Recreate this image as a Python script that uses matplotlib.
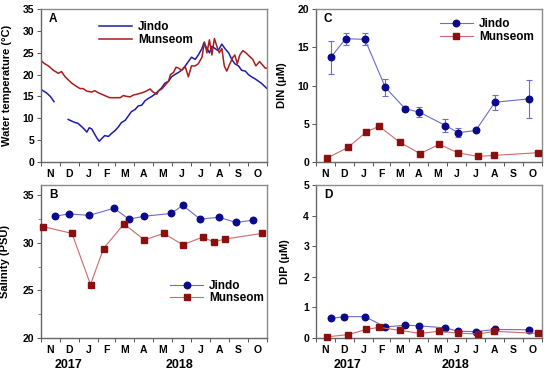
import numpy as np
import matplotlib
matplotlib.use("Agg")
import matplotlib.pyplot as plt
from matplotlib.ticker import FixedLocator, NullFormatter, MultipleLocator

plt.rcParams['font.family'] = ['Liberation Sans', 'DejaVu Sans']
plt.rcParams['font.weight'] = 'bold'

# ---------------- data (x = days since 1 Nov 2017) ----------------
months = ['N', 'D', 'J', 'F', 'M', 'A', 'M', 'J', 'J', 'A', 'S', 'O']
month_starts = [0, 30, 61, 92, 120, 151, 181, 212, 242, 273, 304, 334, 365]

# Panel A: water temperature
jindo_temp_day = [0, 9, 15, 21, 22, 44, 50, 55, 60, 66, 71, 74, 78, 82, 86, 90, 94, 98, 103,
                  109, 114, 120, 125, 130, 136, 141, 146, 152, 157, 163, 168, 173, 179, 184,
                  190, 195, 200, 206, 211, 216, 222, 227, 233, 238, 243, 249, 254, 260, 263,
                  268, 272, 276, 281, 286, 292, 297, 303, 308, 313, 319, 324, 330, 335, 340,
                  346, 351, 356, 362, 364]
jindo_temp = [16.6, 15.8, 15.0, 13.8, np.nan, 9.7, 9.3, 9.0, 8.8, 8.0, 7.3, 6.8, 7.8, 7.5, 6.5,
              5.5, 4.7, 5.3, 6.0, 5.8, 6.5, 7.2, 8.0, 9.0, 9.5, 10.5, 11.5, 12.0, 12.8, 13.0,
              14.0, 14.5, 15.0, 15.5, 16.3, 17.0, 18.0, 18.5, 19.5, 20.0, 20.5, 21.0, 22.0,
              23.0, 24.0, 23.5, 24.5, 26.0, 27.3, 26.0, 25.0, 26.5, 26.0, 25.5, 27.0, 26.0,
              25.0, 23.5, 22.5, 22.0, 21.0, 20.8, 20.0, 19.5, 19.0, 18.5, 18.0, 17.2, 16.9]
mun_temp_day = [0, 6, 12, 20, 28, 33, 39, 44, 50, 55, 63, 68, 74, 82, 87, 93, 98, 106, 111,
                120, 128, 133, 138, 144, 149, 155, 160, 165, 171, 176, 181, 187, 190, 195,
                200, 206, 209, 214, 218, 222, 227, 233, 238, 243, 249, 254, 260, 264, 268,
                272, 276, 280, 284, 288, 292, 296, 300, 305, 310, 313, 317, 321, 326, 331,
                336, 342, 347, 353, 356, 362, 364]
mun_temp = [23.2, 22.5, 22.0, 21.0, 20.3, 20.7, 19.5, 18.8, 18.0, 17.5, 16.8, 16.8, 16.2, 16.0,
            16.3, 15.8, 15.5, 15.0, 14.7, 14.7, 14.7, 15.2, 15.0, 14.9, 15.3, 15.5, 15.7, 15.9,
            16.3, 16.7, 16.0, 15.5, 16.3, 16.7, 17.5, 18.5, 20.0, 20.5, 21.7, 21.5, 21.0, 21.8,
            19.5, 22.0, 22.0, 22.5, 24.0, 27.5, 25.0, 28.0, 24.5, 28.3, 26.5, 25.0, 26.0, 22.0,
            20.8, 22.5, 24.0, 24.5, 22.5, 24.5, 25.5, 25.0, 24.3, 23.5, 22.0, 23.0, 22.5,
            21.5, 21.5]

# Panel B: salinity
jindo_sal_day = [22, 45, 78, 118, 142, 166, 210, 229, 257, 287, 315, 343]
jindo_sal = [32.8, 33.05, 32.9, 33.65, 32.5, 32.8, 33.1, 33.95, 32.5, 32.7, 32.15, 32.4]
mun_sal_day = [4, 50, 80, 101, 134, 167, 198, 229, 261, 279, 297, 357]
mun_sal = [31.7, 31.0, 25.6, 29.4, 32.0, 30.3, 31.0, 29.8, 30.6, 30.1, 30.4, 31.0]

# Panel C: DIN
jindo_din_day = [24, 48, 79, 112, 144, 167, 209, 230, 258, 289, 344]
jindo_din = [13.7, 16.15, 16.05, 9.75, 6.95, 6.5, 4.75, 3.8, 4.1, 7.8, 8.25]
jindo_din_err = [2.2, 0.8, 0.8, 1.15, 0.35, 0.65, 0.8, 0.6, 0.2, 1.0, 2.5]
mun_din_day = [18, 52, 81, 102, 135, 168, 199, 230, 262, 288, 358]
mun_din = [0.48, 1.88, 3.9, 4.64, 2.58, 1.05, 2.28, 1.14, 0.7, 0.83, 1.18]

# Panel D: DIP
jindo_dip_day = [24, 46, 79, 112, 144, 167, 209, 230, 258, 289, 344]
jindo_dip = [0.63, 0.69, 0.69, 0.35, 0.41, 0.39, 0.32, 0.21, 0.2, 0.27, 0.26]
jindo_dip_err = [0.03, 0.08, 0.04, 0.03, 0.03, 0.03, 0.03, 0.03, 0.02, 0.03, 0.03]
mun_dip_day = [18, 52, 81, 102, 135, 168, 199, 230, 262, 288, 358]
mun_dip = [0.03, 0.1, 0.27, 0.34, 0.24, 0.14, 0.21, 0.15, 0.12, 0.21, 0.14]

# ---------------- styling ----------------
J_MARK = '#0a0a8c'
J_LINE = '#6b6bd0'
M_MARK = '#8c0f0f'
M_LINE = '#cc6a6a'
J_TEMP = '#1c1ca8'
M_TEMP = '#a81c1c'
SPINE = '#8a8a8a'

fig = plt.figure(figsize=(5.5, 3.78), dpi=100)
W = 0.411
H = 0.404
axA = fig.add_axes([0.0745, 0.5722, W, 0.4032])
axB = fig.add_axes([0.0745, 0.1066, W, H])
axC = fig.add_axes([0.5745, 0.5722, W, 0.4032])
axD = fig.add_axes([0.5745, 0.1066, W, H])

month_centers = [(month_starts[i] + month_starts[i + 1]) / 2 for i in range(12)]


def style(ax, letter):
    ax.set_xlim(0, 365)
    ax.xaxis.set_major_locator(FixedLocator(month_starts))
    ax.xaxis.set_major_formatter(NullFormatter())
    ax.xaxis.set_minor_locator(FixedLocator(month_centers))
    ax.set_xticklabels(months, minor=True)
    ax.tick_params(axis='x', which='major', direction='out', length=3, width=0.7, color='#555555')
    ax.tick_params(axis='x', which='minor', length=0, pad=5, labelsize=7.5)
    ax.tick_params(axis='y', which='major', direction='out', length=3, width=0.7,
                   color='#555555', labelsize=7.5, pad=2)
    ax.tick_params(axis='y', which='minor', direction='out', length=2, width=0.6, color='#777777')
    for s in ax.spines.values():
        s.set_color(SPINE)
        s.set_linewidth(1.0)
    ax.spines['left'].set_color('#666666')
    ax.spines['bottom'].set_color('#666666')
    for lab in ax.get_xticklabels(minor=True) + ax.get_yticklabels():
        lab.set_fontweight('bold')
    ax.text(0.035, 0.935, letter, transform=ax.transAxes, fontsize=8.5,
            fontweight='bold', va='center', ha='left')


leg_kw = dict(frameon=False, prop={'size': 8.5, 'weight': 'bold'}, handlelength=2.8,
              handletextpad=0.5)

# Panel A
axA.plot(jindo_temp_day, jindo_temp, color=J_TEMP, lw=1.1, label='Jindo')
axA.plot(mun_temp_day, mun_temp, color=M_TEMP, lw=1.1, label='Munseom')
axA.set_ylim(0, 35)
axA.yaxis.set_major_locator(MultipleLocator(5))
style(axA, 'A')
axA.set_ylabel('Water temperature (°C)', fontsize=8, fontweight='bold')
axA.yaxis.set_label_coords(-0.128, 0.5)
axA.legend(loc='upper left', bbox_to_anchor=(0.22, 0.975), labelspacing=0.05,
           borderaxespad=0.3, **leg_kw)

mk = dict(markersize=4.7, lw=0.8, clip_on=False, zorder=3)

# Panel B
axB.plot(jindo_sal_day, jindo_sal, marker='o', color=J_LINE, mfc=J_MARK, mec=J_MARK,
         label='Jindo', **mk)
axB.plot(mun_sal_day, mun_sal, marker='s', color=M_LINE, mfc=M_MARK, mec=M_MARK,
         label='Munseom', **mk)
axB.set_ylim(20, 36.1)
axB.set_yticks([20, 25, 30, 35])
axB.yaxis.set_minor_locator(FixedLocator([22.5, 27.5, 32.5]))
style(axB, 'B')
axB.set_ylabel('Salinity (PSU)', fontsize=8, fontweight='bold')
axB.yaxis.set_label_coords(-0.137, 0.5)
axB.legend(loc='upper left', bbox_to_anchor=(0.55, 0.41), labelspacing=0.0,
           borderaxespad=0.0, **leg_kw)

# Panel C
axC.errorbar(jindo_din_day, jindo_din, yerr=jindo_din_err, fmt='none', ecolor=J_LINE,
             elinewidth=0.8, capsize=2.5, capthick=0.8, zorder=2)
axC.plot(jindo_din_day, jindo_din, marker='o', color=J_LINE, mfc=J_MARK, mec=J_MARK,
         label='Jindo', **mk)
axC.plot(mun_din_day, mun_din, marker='s', color=M_LINE, mfc=M_MARK, mec=M_MARK,
         label='Munseom', **mk)
axC.set_ylim(0, 20)
axC.yaxis.set_major_locator(MultipleLocator(5))
style(axC, 'C')
axC.set_ylabel('DIN (μM)', fontsize=8, fontweight='bold')
axC.yaxis.set_label_coords(-0.128, 0.5)
axC.legend(loc='upper right', bbox_to_anchor=(1.0, 0.995), labelspacing=0.05,
           borderaxespad=0.3, **leg_kw)

# Panel D
axD.errorbar(jindo_dip_day, jindo_dip, yerr=jindo_dip_err, fmt='none', ecolor=J_LINE,
             elinewidth=0.8, capsize=2.5, capthick=0.8, zorder=2)
axD.plot(jindo_dip_day, jindo_dip, marker='o', color=J_LINE, mfc=J_MARK, mec=J_MARK, **mk)
axD.plot(mun_dip_day, mun_dip, marker='s', color=M_LINE, mfc=M_MARK, mec=M_MARK, **mk)
axD.set_ylim(0, 5)
axD.yaxis.set_major_locator(MultipleLocator(1))
style(axD, 'D')
axD.set_ylabel('DIP (μM)', fontsize=8, fontweight='bold')
axD.yaxis.set_label_coords(-0.115, 0.5)

# Year labels
for x, t in [(0.124, '2017'), (0.327, '2018'), (0.631, '2017'), (0.829, '2018')]:
    fig.text(x, 0.034, t, ha='center', va='center', fontsize=9, fontweight='bold')

fig.savefig('out.png', dpi=100)
